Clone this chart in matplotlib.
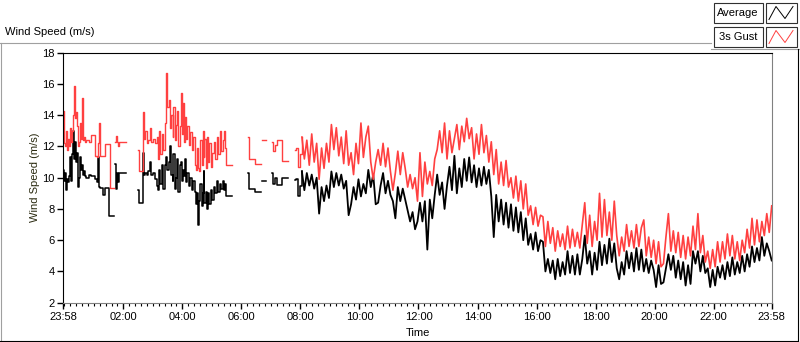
import matplotlib
matplotlib.use('Agg')
import matplotlib.pyplot as plt
from matplotlib.lines import Line2D
from matplotlib.patches import Rectangle
import numpy as np

plt.rcParams['font.family'] = ['Liberation Sans', 'DejaVu Sans']

# time in minutes after 23:58 ; nan = no data (gap)
nan = np.nan
early_t = [0, 2, 4, 6, 8, 10, 12, 14, 16, 18, 20, 22, 24, 26, 28, 30, 32, 34, 36, 38,
           40, 42, 44, 47, 52, 57, 64, 68, 70, 72, 74, 81, 84, 92, 94, 103, 105, 107, 109, 111,
           113, 127, 151, 153, 163, 165, 167, 170, 173, 176, 179, 183, 186, 190, 193, 195, 197, 200, 203, 206,
           209, 211, 214, 217, 219, 222, 224, 227, 230, 232, 234, 237, 239, 241, 243, 245, 247, 249, 252, 255,
           258, 261, 264, 267, 270, 272, 274, 276, 278, 281, 283, 285, 287, 290, 292, 295, 297, 300, 303, 306,
           309, 312, 315, 318, 321, 324, 326, 329, 331, 342, 375, 377, 390, 402, 403, 413, 424, 427, 430, 434,
           444, 456, 470, 474, 478, 481, 485]
early_avg = [10.5, 9.8, 10.3, 9.2, 9.9, 9.7, 10.1, 11.3, 9.8, 11.5, 13.0, 11.2, 12.3, 11.0, 11.6, 9.4, 10.0, 11.3, 10.5, 10.8,
             10.2, 10.4, 10.1, 10.0, 10.2, 10.1, 9.9, 9.7, 11.3, 9.4, 9.33, 8.9, 9.33, 7.55, 7.55, nan, 10.9, 9.3, 10.3, 9.7,
             10.3, nan, 9.2, 8.4, 11.6, 10.2, 10.3, 10.2, 10.4, 11.0, 10.2, 10.3, 9.9, 9.5, 9.2, 10.5, 9.6, 10.8, 9.3, 10.8,
             11.3, 10.5, 11.0, 12.0, 10.2, 9.8, 11.5, 9.3, 10.0, 11.2, 9.1, 10.8, 11.0, 9.8, 10.5, 10.1, 11.2, 9.7, 10.3, 9.5,
             10.0, 9.2, 9.8, 9.1, 8.3, 9.0, 7.0, 8.5, 9.6, 8.2, 9.0, 10.4, 8.4, 9.1, 8.0, 9.0, 8.3, 9.2, 8.6, 9.4,
             9.0, 9.8, 9.1, 9.6, 9.3, 9.8, 9.2, 9.6, 8.8, nan, 10.3, 9.3, 9.1, nan, 9.8, nan, 10.3, 9.6, 10.0, 9.55,
             10.0, nan, 9.85, 9.9, 8.8, 9.5, 10.4]
early_gust = [14.3, 12.2, 12.0, 13.0, 11.8, 12.5, 12.0, 13.2, 12.3, 13.0, 14.0, 15.9, 13.8, 14.2, 13.3, 12.0, 12.3, 13.5, 12.5, 15.1,
              12.4, 12.6, 12.3, 12.4, 12.3, 12.75, 11.4, 11.3, 12.2, 13.5, 11.4, 11.4, 12.15, 12.15, 9.33, nan, 12.3, 12.65, 12.3, 12.0,
              12.3, nan, 11.8, 10.4, 14.2, 12.5, 13.0, 12.2, 12.4, 13.2, 12.3, 12.5, 12.2, 12.6, 11.2, 13.0, 11.5, 12.8, 11.8, 13.5,
              16.7, 14.5, 15.0, 13.2, 14.0, 12.6, 14.5, 12.4, 13.4, 14.3, 12.0, 13.3, 15.4, 12.8, 14.8, 12.3, 13.9, 12.5, 13.3, 12.1,
              12.9, 11.8, 12.6, 10.8, 10.5, 11.9, 10.6, 10.4, 12.4, 10.8, 13.0, 11.3, 12.5, 10.6, 12.6, 11.0, 12.2, 10.7, 11.6, 12.3,
              11.2, 12.6, 11.5, 13.0, 11.7, 12.4, 13.0, 11.9, 10.8, nan, 12.6, 11.2, 10.9, nan, 12.4, nan, 12.3, 11.7, 12.1, 12.4,
              11.1, nan, 11.8, 11.9, 10.7, 11.5, 12.6]

# 5-minute samples from 485 min to 1440 min
dense_t = np.arange(485, 1441, 5)
dense_avg = [10.4, 9.2, 10.3, 9.5, 10.2, 9.3, 10.0, 7.7, 9.4, 8.5, 9.5, 8.7, 10.4, 9.4, 10.3, 9.5, 10.2, 9.3, 9.8, 7.6,
             8.3, 9.4, 8.6, 9.9, 8.8, 9.6, 9.0, 10.5, 9.4, 10.2, 8.3, 8.4, 9.5, 10.3, 9.0, 9.8, 8.9, 8.5, 7.4, 9.4,
             8.5, 9.3, 8.6, 7.9, 7.2, 7.8, 6.7, 7.2, 8.4,
             7.2, 8.5, 5.4, 8.6, 7.4, 8.9, 10.2, 8.9, 9.7, 8.0, 9.5, 10.7, 9.2, 11.4, 9.0, 10.6, 9.4, 11.2, 9.8, 11.3,
             9.7, 10.8, 9.4, 10.6, 9.5, 10.7, 9.6, 10.5, 8.8, 6.2, 8.9, 7.2, 8.6, 7.0, 8.4, 6.8, 8.3, 6.6, 8.1, 6.5,
             7.8, 6.0, 7.4, 5.7, 6.4, 5.4, 6.5, 5.3, 6.0,
             5.9, 4.0, 4.8, 3.9, 4.7, 3.5, 4.8, 3.7, 4.6, 3.8, 5.3, 3.9, 5.0, 3.8, 5.1, 3.8, 4.8, 6.3, 4.5, 5.3,
             3.8, 5.2, 4.1, 5.9, 4.4, 5.7, 4.5, 6.1, 4.6, 5.8, 4.2, 3.5, 4.6, 3.8, 5.3, 4.2, 5.2, 4.0, 5.5, 4.1,
             5.4, 4.0, 4.8, 3.9, 4.7, 4.1, 3.0, 4.4, 3.2,
             3.3, 4.2, 5.1, 4.1, 5.0, 3.6, 4.7, 3.5, 4.6, 3.1, 4.4, 3.2, 5.3, 4.5, 5.3, 4.0, 5.0, 3.9, 4.2, 3.0,
             4.1, 3.1, 4.3, 3.6, 4.4, 3.5, 4.6, 3.7, 4.9, 3.8, 4.6, 3.9, 5.0, 4.0, 5.1, 4.3, 5.6, 4.6, 5.5, 4.7,
             6.2, 5.0, 5.8, 5.3, 4.7]
dense_gust = [12.6, 11.2, 12.4, 10.8, 12.8, 11.0, 12.2, 9.9, 11.9, 10.6, 12.2, 11.0, 13.4, 11.8, 13.2, 11.4, 12.6, 10.9, 13.0, 10.8,
              11.6, 10.2, 12.2, 10.9, 13.5, 11.3, 12.6, 13.3, 11.0, 9.9, 11.0, 11.8, 10.8, 12.2, 10.7, 11.9, 10.4, 9.2, 10.3, 11.7,
              10.2, 11.6, 10.6, 9.4, 10.2, 9.3, 10.0, 8.5, 11.6,
              8.8, 11.0, 9.6, 10.4, 9.5, 11.2, 11.8, 13.0, 11.6, 13.5, 11.2, 13.0, 11.6, 12.5, 13.4, 11.8, 13.3, 12.3, 13.8, 12.5,
              13.2, 11.2, 12.8, 11.5, 13.4, 11.6, 12.7, 11.0, 12.3, 10.2, 11.8, 9.6, 11.0, 9.5, 11.1, 9.4, 10.0, 8.7, 10.1, 8.5,
              9.8, 8.0, 9.6, 7.6, 8.2, 7.0, 8.1, 6.9, 7.6,
              7.5, 5.6, 7.2, 5.8, 6.8, 5.3, 6.6, 5.6, 6.4, 5.4, 6.9, 5.5, 6.7, 5.6, 6.5, 5.5, 7.0, 8.4, 5.8, 7.6,
              5.6, 7.2, 6.0, 9.0, 6.2, 8.6, 6.3, 7.8, 6.0, 8.5, 6.3, 5.0, 6.2, 5.3, 7.0, 5.6, 6.6, 5.5, 7.0, 5.6,
              6.8, 7.3, 5.0, 6.2, 4.9, 6.0, 4.5, 5.9, 4.3,
              4.5, 6.2, 7.7, 5.3, 6.6, 5.2, 6.5, 4.9, 6.3, 4.8, 6.2, 5.0, 6.9, 5.4, 7.7, 5.2, 6.3, 4.6, 5.3, 4.2,
              5.4, 4.3, 5.9, 4.6, 5.9, 4.8, 6.4, 5.0, 6.3, 4.8, 5.9, 4.7, 6.0, 5.2, 6.7, 5.5, 7.4, 5.7, 7.3, 5.9,
              7.2, 6.3, 7.7, 6.5, 8.2]

major_ticks = [0, 122, 242, 362, 482, 602, 722, 842, 962, 1082, 1202, 1322, 1440]
major_labels = ['23:58', '02:00', '04:00', '06:00', '08:00', '10:00', '12:00',
                '14:00', '16:00', '18:00', '20:00', '22:00', '23:58']

W, H = 800, 342
def fx(x): return x / W
def fy(y): return 1 - y / H

fig = plt.figure(figsize=(8, 3.42), dpi=100)
ax = fig.add_axes([fx(63.3), fy(302.7), (771.7 - 63.3) / W, (302.7 - 52.7) / H])

# sparse early log is held between samples, the busy part is drawn point to point
ax.plot(early_t, early_avg, drawstyle='steps-post', color='black', lw=1.1)
ax.plot(dense_t, dense_avg, color='black', lw=1.3)
ax.plot(early_t, early_gust, drawstyle='steps-post', color='#ff4040', lw=1.0)
ax.plot(dense_t, dense_gust, color='#ff4040', lw=1.2)

ax.set_xlim(0, 1440)
ax.set_ylim(2, 18)
ax.set_yticks(np.arange(2, 19, 2))
ax.set_xticks(major_ticks)
ax.set_xticklabels(major_labels)
ax.set_xticks(np.arange(2, 1440, 12), minor=True)
ax.tick_params(axis='both', which='major', length=4, width=1, direction='out', labelsize=8, pad=2)
ax.tick_params(axis='x', which='major', pad=3)
ax.tick_params(axis='x', which='minor', length=2.5, width=0.8, direction='out')
for s in ['left', 'top']:
    ax.spines[s].set_color('black')
for s in ['right', 'bottom']:
    ax.spines[s].set_color('#808080')
ax.set_ylabel('Wind Speed (m/s)', fontsize=8, color='#2a2a10', labelpad=2)
ax.set_xlabel('Time', fontsize=8, labelpad=4)

# panel frame
def fline(x0, y0, x1, y1, c, lw=0.8):
    fig.add_artist(Line2D([fx(x0), fx(x1)], [fy(y0), fy(y1)], color=c, lw=lw))

fline(0, 42.5, 711, 42.5, '#a0a0a0')
fline(0.5, 42.5, 0.5, 341, '#a0a0a0')
fline(711, 48.5, 800, 48.5, '#a0a0a0')
fline(0, 340.6, 797.5, 340.6, 'black')
fline(797.5, 48.5, 797.5, 341, 'black')

fig.text(fx(5), fy(32), 'Wind Speed (m/s)', fontsize=8, va='center', ha='left')

# legend
legend_names = ['Average', '3s Gust']
legend_colors = ['black', '#ff4040']
for i, (name, c) in enumerate(zip(legend_names, legend_colors)):
    y0 = 3.5 + i * 24
    fig.add_artist(Rectangle((fx(713.5), fy(y0 + 19)), 49 / W, 19 / H, fill=False,
                             edgecolor='#303030', lw=0.8))
    fig.add_artist(Rectangle((fx(765.5), fy(y0 + 19)), 31 / W, 19 / H, fill=False,
                             edgecolor='#303030', lw=0.8))
    fig.text(fx(738), fy(y0 + 9.5), name, fontsize=8, ha='center', va='center')
    xs = [769, 776, 785, 793]
    ys = [y0 + 16, y0 + 3, y0 + 15, y0 + 3]
    fig.add_artist(Line2D([fx(v) for v in xs], [fy(v) for v in ys], color=c, lw=0.7))

fig.savefig('out.png', dpi=100)
